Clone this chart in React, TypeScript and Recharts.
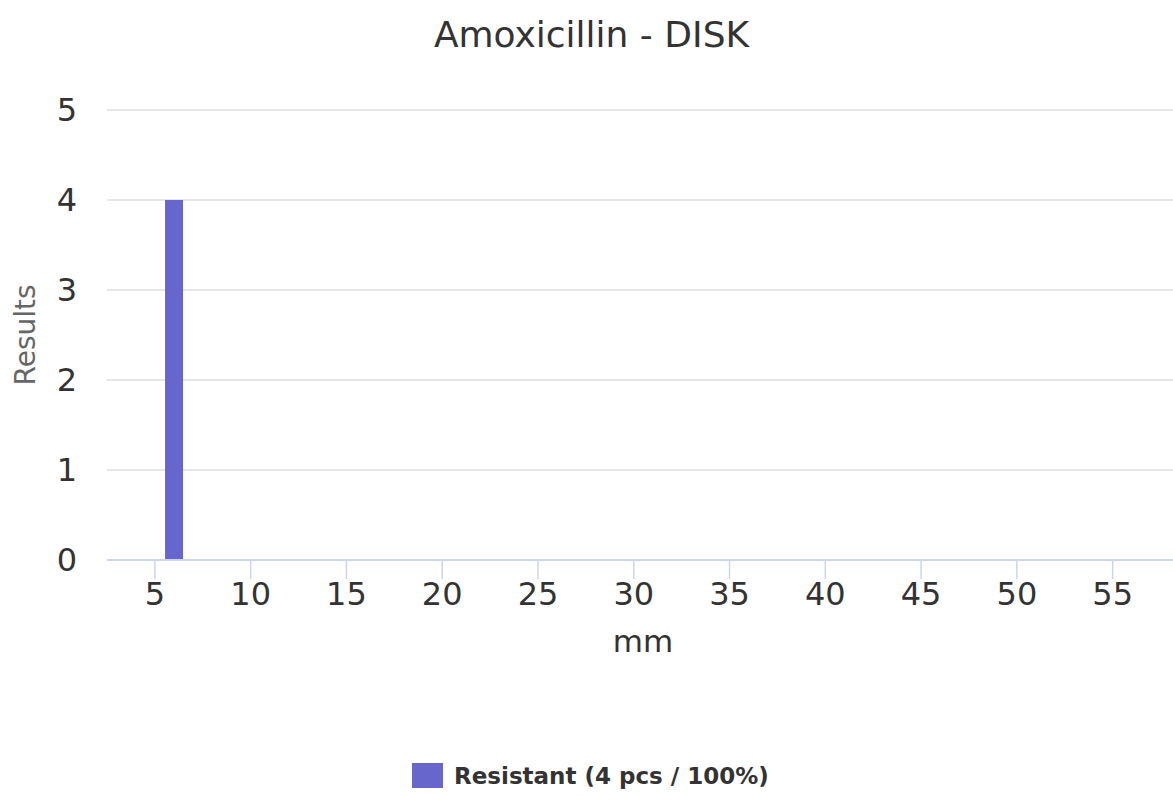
import { BarChart, Bar, XAxis, YAxis, CartesianGrid, Label } from "recharts";

const mmValues = [6];
const resistantCounts = [4];
const xTicks = [5, 10, 15, 20, 25, 30, 35, 40, 45, 50, 55];
const yTicks = [0, 1, 2, 3, 4, 5];

const chartTitle = "Amoxicillin - DISK";
const seriesName = "Resistant";
const seriesColor = "#6666cc";

const font = "DejaVu Sans";

export default function App() {
  const data = mmValues.map((mm, i) => ({ mm, count: resistantCounts[i] }));
  const total = resistantCounts.reduce((a, b) => a + b, 0);

  return (
    <div style={{ position: "absolute", left: 0, top: 0, width: 1173, height: 797, background: "#fff", fontFamily: font }}>
      <div
        style={{
          position: "absolute",
          left: 5,
          top: 17,
          width: 1173,
          textAlign: "center",
          fontSize: 36,
          lineHeight: "36px",
          color: "#333",
        }}
      >
        {chartTitle}
      </div>

      <BarChart width={1173} height={797} data={data} margin={{ top: 110, right: 0, left: 0, bottom: 137 }}>
        <CartesianGrid vertical={false} stroke="#e6e6e6" strokeWidth={2} />
        <XAxis
          dataKey="mm"
          type="number"
          domain={[2.5, 58.15]}
          allowDataOverflow
          ticks={xTicks}
          interval={0}
          height={100}
          axisLine={{ stroke: "#ccd6eb", strokeWidth: 2 }}
          tickLine={{ stroke: "#ccd6eb", strokeWidth: 1.5 }}
          tickSize={19}
          tickMargin={3}
          tick={{ fill: "#333", fontSize: 32, fontFamily: font }}
        >
          <Label
            content={({ viewBox }: any) => (
              <text
                x={viewBox.x + viewBox.width / 2 + 3}
                y={viewBox.y + 92}
                textAnchor="middle"
                fill="#333"
                fontSize={31}
                fontFamily={font}
              >
                mm
              </text>
            )}
          />
        </XAxis>
        <YAxis
          type="number"
          domain={[0, 5]}
          ticks={yTicks}
          interval={0}
          width={107}
          axisLine={false}
          tickLine={false}
          tickSize={0}
          tickMargin={30}
          tick={{ fill: "#333", fontSize: 32, fontFamily: font }}
        >
          <Label
            content={({ viewBox }: any) => {
              const cx = 35;
              const cy = viewBox.y + viewBox.height / 2;
              return (
                <text
                  x={cx}
                  y={cy}
                  transform={`rotate(-90 ${cx} ${cy})`}
                  textAnchor="middle"
                  fill="#666"
                  fontSize={28}
                  fontFamily={font}
                >
                  Results
                </text>
              );
            }}
          />
        </YAxis>
        <Bar dataKey="count" fill={seriesColor} barSize={18} isAnimationActive={false} />
      </BarChart>

      <div style={{ position: "absolute", left: 412, top: 763, display: "flex", alignItems: "flex-start" }}>
        <div style={{ width: 31, height: 25, background: seriesColor, marginRight: 11 }} />
        <span style={{ fontSize: 23, lineHeight: "25px", fontWeight: "bold", color: "#333", paddingTop: 1 }}>
          {`${seriesName} (${total} pcs / 100%)`}
        </span>
      </div>
    </div>
  );
}
